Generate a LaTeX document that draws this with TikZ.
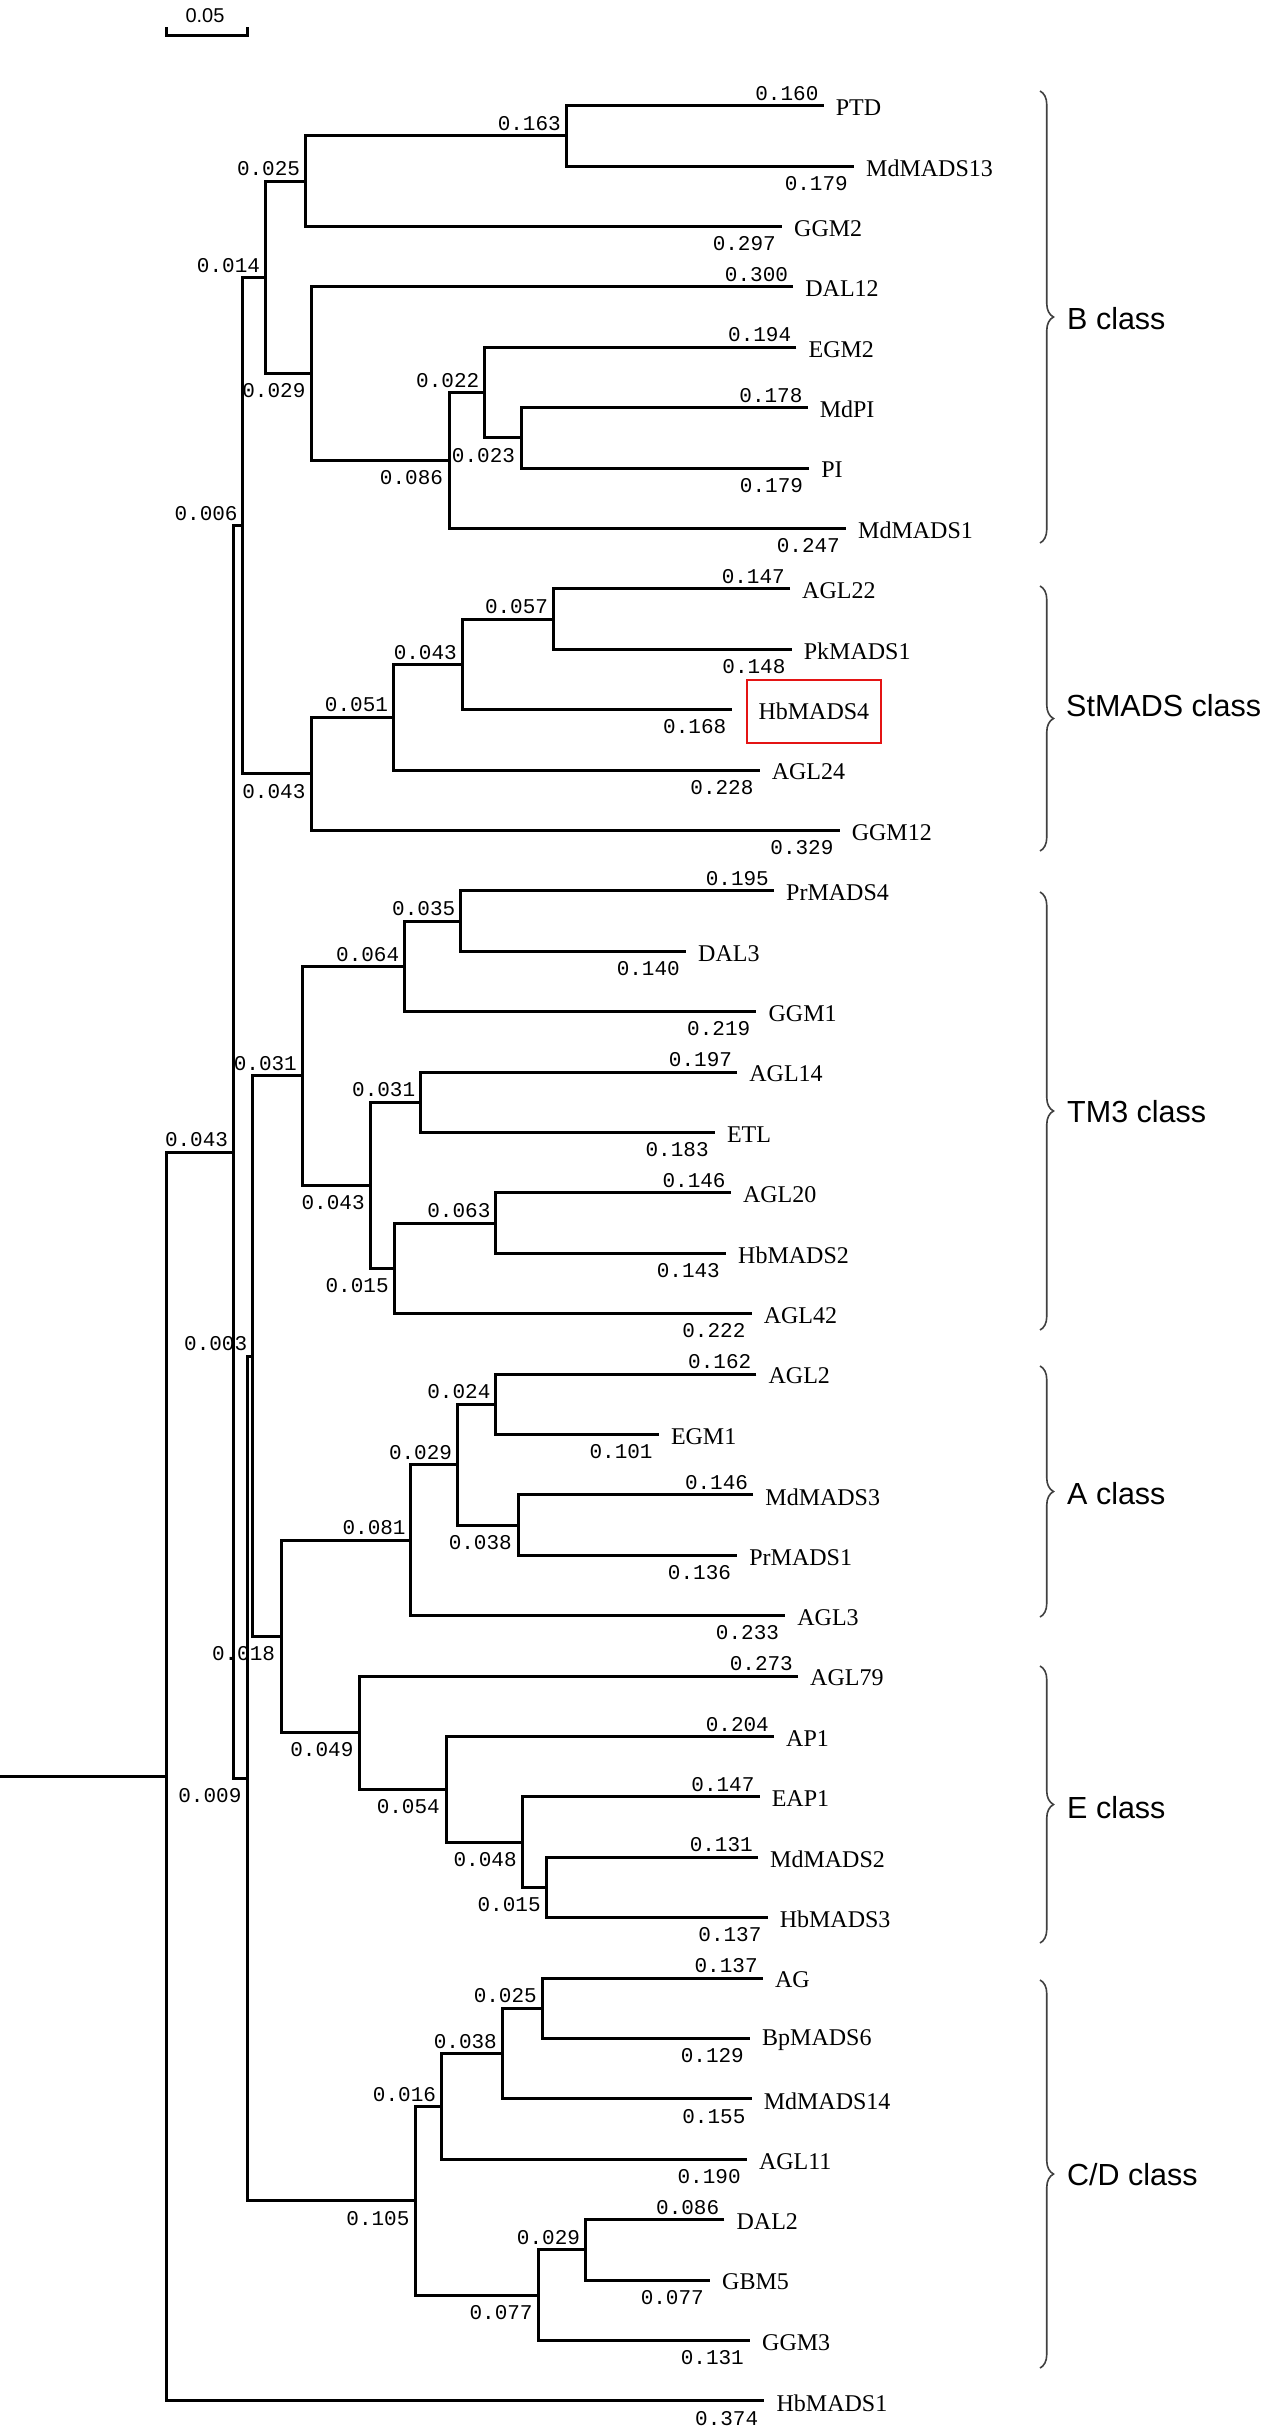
\documentclass[tikz,border=0pt]{standalone}
\usepackage{fontspec}
\newfontfamily\lfont{Liberation Serif}
\newfontfamily\nfont{Liberation Mono}
\newfontfamily\cfont{Liberation Sans}
\usetikzlibrary{decorations.pathreplacing,calc}
\definecolor{boxred}{RGB}{228,20,20}
\tikzset{
 br/.style={line width=3pt, black},
 lenup/.style={anchor=south east, inner sep=0pt, xshift=-5pt, yshift=5pt, font=\nfont\fontsize{21}{21}\selectfont},
 lendn/.style={anchor=north east, inner sep=0pt, xshift=-6pt, yshift=-10pt, font=\nfont\fontsize{21}{21}\selectfont},
 leaf/.style={anchor=west, inner sep=0pt, xshift=12pt, yshift=-2pt, font=\lfont\fontsize{24}{24}\selectfont},
 cls/.style={anchor=west, inner sep=0pt, font=\cfont\fontsize{30.5}{30.5}\selectfont},
 clsbrace/.style={decorate, decoration={brace, amplitude=13.5pt}, line width=1.6pt, black!75},
 sbar/.style={line width=3pt, black},
}
\newcommand\tleaf[4]{\coordinate (#1) at (#2,#3); \node[leaf] (#1-t) at (#1) {#4};}
\newcommand\tint[3]{\coordinate (#1) at (#2,#3);}
\newcommand\tjoin[3]{\draw[br] (#2) -| (#1) |- (#3);}
\newcommand\blen[3]{\node[len#2] (#1-l) at (#1) {#3};}
\begin{document}
\begin{tikzpicture}[x=1pt,y=-1pt]
\fill[white] (0,0) rectangle (1267,2433);
\useasboundingbox (0,0) rectangle (1267,2433);
\coordinate (O) at (0,0);
% scale bar
\coordinate (sb1) at (166.5,35.5);
\coordinate (sb2) at (247,35.5);
\draw[sbar] ($(sb1)+(0,-8.5)$) -- (sb1) -- (sb2) -- ($(sb2)+(0,-8.5)$);
\node[inner sep=0pt, font=\cfont\fontsize{20}{20}\selectfont] (sbl) at (205,15.8) {0.05};
\begin{scope}[x=1600pt, y=-60.4pt, shift={(166pt,-105.7pt)}]
% leaves
\tleaf{PTD}{0.411}{0}{PTD}
\tleaf{MdMADS13}{0.430}{1}{MdMADS13}
\tleaf{GGM2}{0.385}{2}{GGM2}
\tleaf{DAL12}{0.392}{3}{DAL12}
\tleaf{EGM2}{0.394}{4}{EGM2}
\tleaf{MdPI}{0.401}{5}{MdPI}
\tleaf{PI}{0.402}{6}{PI}
\tleaf{MdMADS1}{0.425}{7}{MdMADS1}
\tleaf{AGL22}{0.390}{8}{AGL22}
\tleaf{PkMADS1}{0.391}{9}{PkMADS1}
\coordinate (HbMADS4) at (0.354,10);
\node[leaf, draw=boxred, line width=2pt, minimum width=134pt, minimum height=63pt, xshift=1.5pt, yshift=0pt] (HbMADS4-t) at (HbMADS4) {HbMADS4};
\tleaf{AGL24}{0.371}{11}{AGL24}
\tleaf{GGM12}{0.421}{12}{GGM12}
\tleaf{PrMADS4}{0.380}{13}{PrMADS4}
\tleaf{DAL3}{0.325}{14}{DAL3}
\tleaf{GGM1}{0.369}{15}{GGM1}
\tleaf{AGL14}{0.357}{16}{AGL14}
\tleaf{ETL}{0.343}{17}{ETL}
\tleaf{AGL20}{0.353}{18}{AGL20}
\tleaf{HbMADS2}{0.350}{19}{HbMADS2}
\tleaf{AGL42}{0.366}{20}{AGL42}
\tleaf{AGL2}{0.369}{21}{AGL2}
\tleaf{EGM1}{0.308}{22}{EGM1}
\tleaf{MdMADS3}{0.367}{23}{MdMADS3}
\tleaf{PrMADS1}{0.357}{24}{PrMADS1}
\tleaf{AGL3}{0.387}{25}{AGL3}
\tleaf{AGL79}{0.395}{26}{AGL79}
\tleaf{AP1}{0.380}{27}{AP1}
\tleaf{EAP1}{0.371}{28}{EAP1}
\tleaf{MdMADS2}{0.370}{29}{MdMADS2}
\tleaf{HbMADS3}{0.376}{30}{HbMADS3}
\tleaf{AG}{0.373}{31}{AG}
\tleaf{BpMADS6}{0.365}{32}{BpMADS6}
\tleaf{MdMADS14}{0.366}{33}{MdMADS14}
\tleaf{AGL11}{0.363}{34}{AGL11}
\tleaf{DAL2}{0.349}{35}{DAL2}
\tleaf{GBM5}{0.340}{36}{GBM5}
\tleaf{GGM3}{0.365}{37}{GGM3}
\tleaf{HbMADS1}{0.374}{38}{HbMADS1}
% internal nodes
\tint{R}{0}{27.662109375}
\tint{A}{0.042}{17.32421875}
\tint{B}{0.048}{6.953125}
\tint{C}{0.062}{2.84375}
\tint{C1}{0.087}{1.25}
\tint{C1a}{0.250}{0.5}
\tint{C2}{0.091}{4.4375}
\tint{C2a}{0.177}{5.875}
\tint{C2b}{0.199}{4.75}
\tint{C2c}{0.222}{5.5}
\tint{S}{0.091}{11.0625}
\tint{S1}{0.142}{10.125}
\tint{S2}{0.185}{9.25}
\tint{S3}{0.242}{8.5}
\tint{D}{0.051}{27.6953125}
\tint{E}{0.054}{20.703125}
\tint{T}{0.085}{16.0625}
\tint{T1}{0.149}{14.25}
\tint{T1a}{0.184}{13.5}
\tint{T2}{0.128}{17.875}
\tint{T2a}{0.159}{16.5}
\tint{T2b}{0.143}{19.25}
\tint{T2c}{0.206}{18.5}
\tint{F}{0.072}{25.34375}
\tint{Acl}{0.153}{23.75}
\tint{A1}{0.182}{22.5}
\tint{A1a}{0.206}{21.5}
\tint{A1b}{0.220}{23.5}
\tint{Ecl}{0.121}{26.9375}
\tint{E1}{0.175}{27.875}
\tint{E2}{0.223}{28.75}
\tint{E3}{0.238}{29.5}
\tint{CD}{0.156}{34.6875}
\tint{CD1}{0.172}{33.125}
\tint{CD2}{0.210}{32.25}
\tint{CD3}{0.235}{31.5}
\tint{CD4}{0.233}{36.25}
\tint{CD5}{0.262}{35.5}
\end{scope}
% root stub
\draw[br] (O |- R) -- (R);
% branches
\tjoin{R}{A}{HbMADS1}
\tjoin{A}{B}{D}
\tjoin{B}{C}{S}
\tjoin{C}{C1}{C2}
\tjoin{C1}{C1a}{GGM2}
\tjoin{C1a}{PTD}{MdMADS13}
\tjoin{C2}{DAL12}{C2a}
\tjoin{C2a}{C2b}{MdMADS1}
\tjoin{C2b}{EGM2}{C2c}
\tjoin{C2c}{MdPI}{PI}
\tjoin{S}{S1}{GGM12}
\tjoin{S1}{S2}{AGL24}
\tjoin{S2}{S3}{HbMADS4}
\tjoin{S3}{AGL22}{PkMADS1}
\tjoin{D}{E}{CD}
\tjoin{E}{T}{F}
\tjoin{T}{T1}{T2}
\tjoin{T1}{T1a}{GGM1}
\tjoin{T1a}{PrMADS4}{DAL3}
\tjoin{T2}{T2a}{T2b}
\tjoin{T2a}{AGL14}{ETL}
\tjoin{T2b}{T2c}{AGL42}
\tjoin{T2c}{AGL20}{HbMADS2}
\tjoin{F}{Acl}{Ecl}
\tjoin{Acl}{A1}{AGL3}
\tjoin{A1}{A1a}{A1b}
\tjoin{A1a}{AGL2}{EGM1}
\tjoin{A1b}{MdMADS3}{PrMADS1}
\tjoin{Ecl}{AGL79}{E1}
\tjoin{E1}{AP1}{E2}
\tjoin{E2}{EAP1}{E3}
\tjoin{E3}{MdMADS2}{HbMADS3}
\tjoin{CD}{CD1}{CD4}
\tjoin{CD1}{CD2}{AGL11}
\tjoin{CD2}{CD3}{MdMADS14}
\tjoin{CD3}{AG}{BpMADS6}
\tjoin{CD4}{CD5}{GGM3}
\tjoin{CD5}{DAL2}{GBM5}
% branch lengths
\blen{A}{up}{0.043}\blen{HbMADS1}{dn}{0.374}
\blen{B}{up}{0.006}\blen{D}{dn}{0.009}
\blen{C}{up}{0.014}\blen{S}{dn}{0.043}
\blen{C1}{up}{0.025}\blen{C2}{dn}{0.029}
\blen{C1a}{up}{0.163}\blen{GGM2}{dn}{0.297}
\blen{PTD}{up}{0.160}\blen{MdMADS13}{dn}{0.179}
\blen{DAL12}{up}{0.300}\blen{C2a}{dn}{0.086}
\blen{C2b}{up}{0.022}\blen{MdMADS1}{dn}{0.247}
\blen{EGM2}{up}{0.194}\blen{C2c}{dn}{0.023}
\blen{MdPI}{up}{0.178}\blen{PI}{dn}{0.179}
\blen{S1}{up}{0.051}\blen{GGM12}{dn}{0.329}
\blen{S2}{up}{0.043}\blen{AGL24}{dn}{0.228}
\blen{S3}{up}{0.057}\blen{HbMADS4}{dn}{0.168}
\blen{AGL22}{up}{0.147}\blen{PkMADS1}{dn}{0.148}
\blen{E}{up}{0.003}\blen{CD}{dn}{0.105}
\blen{T}{up}{0.031}\blen{F}{dn}{0.018}
\blen{T1}{up}{0.064}\blen{T2}{dn}{0.043}
\blen{T1a}{up}{0.035}\blen{GGM1}{dn}{0.219}
\blen{PrMADS4}{up}{0.195}\blen{DAL3}{dn}{0.140}
\blen{T2a}{up}{0.031}\blen{T2b}{dn}{0.015}
\blen{AGL14}{up}{0.197}\blen{ETL}{dn}{0.183}
\blen{T2c}{up}{0.063}\blen{AGL42}{dn}{0.222}
\blen{AGL20}{up}{0.146}\blen{HbMADS2}{dn}{0.143}
\blen{Acl}{up}{0.081}\blen{Ecl}{dn}{0.049}
\blen{A1}{up}{0.029}\blen{AGL3}{dn}{0.233}
\blen{A1a}{up}{0.024}\blen{A1b}{dn}{0.038}
\blen{AGL2}{up}{0.162}\blen{EGM1}{dn}{0.101}
\blen{MdMADS3}{up}{0.146}\blen{PrMADS1}{dn}{0.136}
\blen{AGL79}{up}{0.273}\blen{E1}{dn}{0.054}
\blen{AP1}{up}{0.204}\blen{E2}{dn}{0.048}
\blen{EAP1}{up}{0.147}\blen{E3}{dn}{0.015}
\blen{MdMADS2}{up}{0.131}\blen{HbMADS3}{dn}{0.137}
\blen{CD1}{up}{0.016}\blen{CD4}{dn}{0.077}
\blen{CD2}{up}{0.038}\blen{AGL11}{dn}{0.190}
\blen{CD3}{up}{0.025}\blen{MdMADS14}{dn}{0.155}
\blen{AG}{up}{0.137}\blen{BpMADS6}{dn}{0.129}
\blen{CD5}{up}{0.029}\blen{GGM3}{dn}{0.131}
\blen{DAL2}{up}{0.086}\blen{GBM5}{dn}{0.077}
% class braces and labels
\coordinate (bB1) at (1040,91);   \coordinate (bB2) at (1040,543);
\coordinate (bS1) at (1040,586);  \coordinate (bS2) at (1040,851);
\coordinate (bT1) at (1040,892);  \coordinate (bT2) at (1040,1330);
\coordinate (bA1) at (1040,1366); \coordinate (bA2) at (1040,1617);
\coordinate (bE1) at (1040,1666); \coordinate (bE2) at (1040,1943);
\coordinate (bC1) at (1040,1980); \coordinate (bC2) at (1040,2368);
\draw[clsbrace] (bB1) -- (bB2);
\draw[clsbrace] (bS1) -- (bS2);
\draw[clsbrace] (bT1) -- (bT2);
\draw[clsbrace] (bA1) -- (bA2);
\draw[clsbrace] (bE1) -- (bE2);
\draw[clsbrace] (bC1) -- (bC2);
\node[cls] (lB) at (1067,319) {B class};
\node[cls] (lS) at (1066,706) {StMADS class};
\node[cls] (lT) at (1067,1112) {TM3 class};
\node[cls] (lA) at (1067,1494) {A class};
\node[cls] (lE) at (1067,1808) {E class};
\node[cls] (lC) at (1067,2175) {C/D class};
\end{tikzpicture}
\end{document}
